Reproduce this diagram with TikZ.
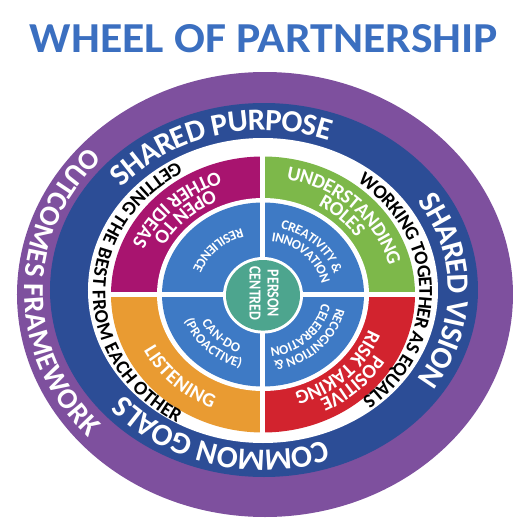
\documentclass[tikz,border=0pt]{standalone}
\usepackage{fontspec}
\setmainfont{Carlito}
\usetikzlibrary{decorations.text}
\definecolor{ttl}{HTML}{3B6FC0}
\definecolor{purp}{HTML}{7E509E}
\definecolor{dblue}{HTML}{2C4D96}
\definecolor{mag}{HTML}{A8146F}
\definecolor{grn}{HTML}{7DB84A}
\definecolor{rd}{HTML}{D2232E}
\definecolor{org}{HTML}{E99B32}
\definecolor{iblue}{HTML}{3E7AC5}
\definecolor{tealc}{HTML}{4DA58E}
\newcommand\bandfont{\color{white}\fontsize{31}{31}\selectfont\bfseries}
\newcommand\purpfont{\color{white}\fontsize{29}{29}\selectfont\bfseries}
\newcommand\ringfont{\color{black}\fontsize{19.5}{19.5}\selectfont\bfseries}
\newcommand\quadfont{\color{white}\fontsize{20}{20}\selectfont\bfseries}
\newcommand\innerfont{\color{white}\fontsize{13.5}{13.5}\selectfont\bfseries}
% #1 shift, #2 rx, #3 ry, #4 start, #5 end, #6 raise, #7 format, #8 text
\newcommand\arctext[8]{%
  \path[shift={#1}, decorate, decoration={text along path, text align=center, raise=#6, text={|#7|#8}}]
    (#4:#2pt and #3pt) arc[start angle=#4, end angle=#5, x radius=#2pt, y radius=#3pt];}
\begin{document}
\begin{tikzpicture}[x=1pt,y=1pt]
\useasboundingbox (-263,-228.5) rectangle (257,294.5);
% title
\node[anchor=base, text=ttl, font=\fontsize{42.7}{44}\selectfont\bfseries, inner sep=0] (title) at (1,242.5) {\scalebox{1.07}[1]{WHEEL OF PARTNERSHIP}};
% rings
\fill[purp] (2,0) ellipse [x radius=248pt, y radius=222.5pt];
\fill[dblue] (1,4.5) ellipse [x radius=214pt, y radius=187pt];
\fill[white] (0,4) ellipse [x radius=175pt, y radius=152.5pt];
% quadrants
\fill[mag] (0,0) -- (90:152pt and 138pt) arc[start angle=90,end angle=180,x radius=152pt,y radius=138pt] -- cycle;
\fill[grn] (0,0) -- (0:152pt and 138pt) arc[start angle=0,end angle=90,x radius=152pt,y radius=138pt] -- cycle;
\fill[rd] (0,0) -- (-90:152pt and 138pt) arc[start angle=-90,end angle=0,x radius=152pt,y radius=138pt] -- cycle;
\fill[org] (0,0) -- (180:152pt and 138pt) arc[start angle=180,end angle=270,x radius=152pt,y radius=138pt] -- cycle;
\fill[white] (0,0) ellipse [x radius=106pt, y radius=96.5pt];
\fill[iblue] (0,0) ellipse [x radius=101pt, y radius=92pt];
\draw[white, line width=5pt] (-153,0) -- (153,0);
\draw[white, line width=5pt] (0,-139) -- (0,139);
\fill[white] (0,-0.8) ellipse [x radius=40pt, y radius=38.3pt];
\fill[tealc] (0,-0.8) ellipse [x radius=37pt, y radius=35.3pt];
\node[rotate=-90, align=center, text=white, font=\fontsize{14}{18}\selectfont\bfseries, inner sep=0] (pc) at (1,1) {\scalebox{1}[1.2]{PERSON}\\\scalebox{1}[1.2]{CENTRED}};
% blue band texts
\arctext{(0.5,4.25)}{194.5}{169.75}{186}{26}{-9.8pt}{\bandfont}{SHARED PURPOSE}
\arctext{(0.5,4.25)}{194.5}{169.75}{80}{-80}{-9.8pt}{\bandfont}{SHARED VISION}
\arctext{(0.5,4.25)}{194.5}{169.75}{-26}{-186}{-9.8pt}{\bandfont}{COMMON GOALS}
% purple
\arctext{(1.5,2.25)}{231}{204.75}{90}{270}{-9.2pt}{\purpfont}{OUTCOMES FRAMEWORK}
% white ring
\arctext{(-0.75,2.25)}{163.25}{144.75}{90}{270}{-6.2pt}{\ringfont}{GETTING THE BEST FROM EACH OTHER}
\arctext{(-0.75,2.25)}{163.25}{144.75}{91}{-89}{-6.2pt}{\ringfont}{WORKING TOGETHER AS EQUALS}
% quadrants
\arctext{(0,0)}{119}{108}{45}{225}{-6.3pt}{\quadfont}{OPEN TO}
\arctext{(0,0)}{136}{123.5}{45}{225}{-6.3pt}{\quadfont}{OTHER IDEAS}
\arctext{(0,0)}{136}{123.5}{135}{-45}{-6.3pt}{\quadfont}{UNDERSTANDING}
\arctext{(0,0)}{119}{108}{135}{-45}{-6.3pt}{\quadfont}{ROLES}
\arctext{(0,0)}{136}{123.5}{45}{-135}{-6.3pt}{\quadfont}{POSITIVE}
\arctext{(0,0)}{119}{108}{45}{-135}{-6.3pt}{\quadfont}{RISK TAKING}
\arctext{(0,0)}{128}{116.2}{-225}{-45}{-6.3pt}{\quadfont}{LISTENING}
% inner
\arctext{(0,0)}{71}{64.6}{45}{225}{-4.3pt}{\innerfont}{RESILIENCE}
\arctext{(0,0)}{79}{72}{135}{-45}{-4.3pt}{\innerfont}{CREATIVITY {\&}}
\arctext{(0,0)}{64}{58.2}{135}{-45}{-4.3pt}{\innerfont}{INNOVATION}
\arctext{(0,0)}{79}{72}{45}{-135}{-4.3pt}{\innerfont}{RECOGNITION {\&}}
\arctext{(0,0)}{64}{58.2}{45}{-135}{-4.3pt}{\innerfont}{CELEBRATION}
\arctext{(0,0)}{64}{58.2}{-225}{-45}{-4.3pt}{\innerfont}{CAN-DO}
\arctext{(0,0)}{79}{72}{-225}{-45}{-4.3pt}{\innerfont}{(PROACTIVE)}
\end{tikzpicture}
\end{document}
